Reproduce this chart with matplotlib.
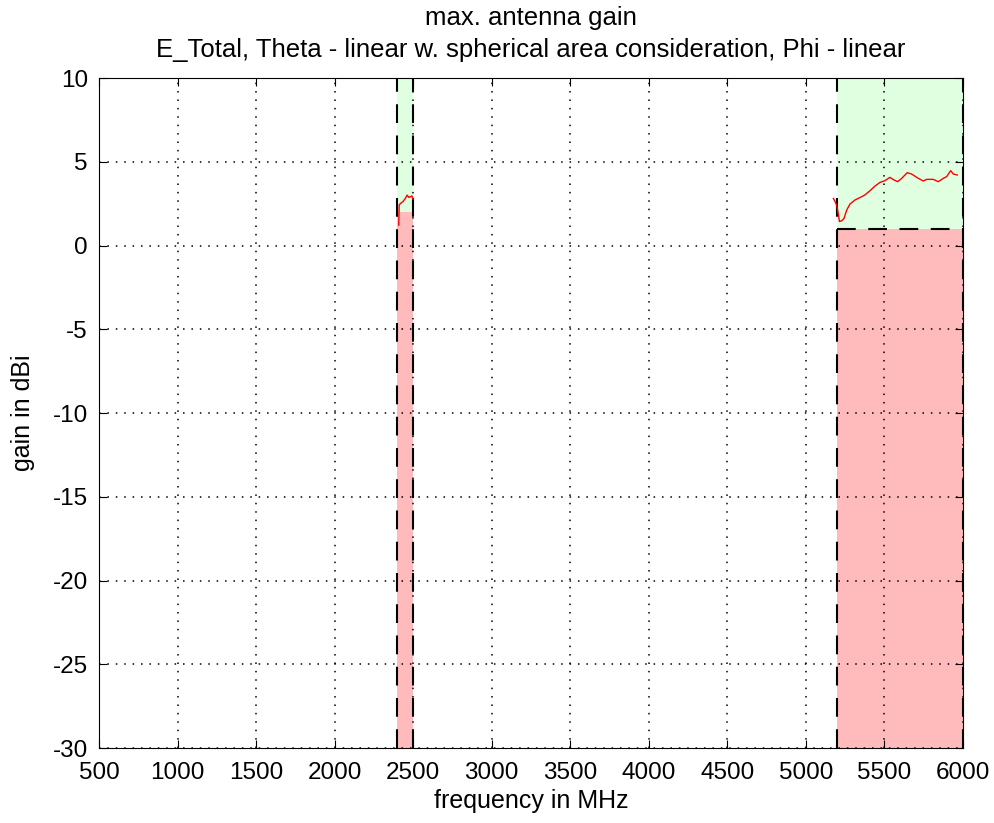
import numpy as np
import matplotlib.pyplot as plt

plt.rcParams['font.family'] = ['Liberation Sans', 'DejaVu Sans']
plt.rcParams['axes.unicode_minus'] = False

# measured max gain, 2.4 GHz band
f_low = [2408, 2411, 2420, 2435, 2450, 2461, 2473, 2492, 2499]
g_low = [1.22, 2.42, 2.52, 2.62, 2.81, 3.01, 2.87, 2.96, 2.76]

# measured max gain, 5 GHz band
f_high = [5175, 5190, 5200, 5214, 5228, 5243, 5260, 5281, 5313, 5344, 5376, 5408,
          5440, 5472, 5503, 5535, 5554, 5584, 5610, 5645, 5673, 5705, 5747,
          5769, 5811, 5843, 5875, 5896, 5922, 5938, 5964]
g_high = [2.81, 2.55, 2.25, 1.43, 1.48, 1.62, 2.12, 2.48, 2.72, 2.86, 3.02, 3.27,
          3.55, 3.77, 3.87, 4.07, 3.95, 3.81, 4.01, 4.35, 4.27, 4.07, 3.85,
          3.95, 3.95, 3.81, 4.01, 4.11, 4.47, 4.27, 4.21]

# band limits (MHz) and minimum required gain (dBi)
bands = [(2400, 2500), (5200, 6000)]
limits = [2, 1]
show_limit_line = [False, True]

ymin, ymax = -30, 10
dash = (0, (9, 6))

fig = plt.figure(figsize=(9.95, 8.23), dpi=100)
ax = fig.add_axes([0.0995, 0.0911, 0.8683, 0.8141])

for (f1, f2), lim, hline in zip(bands, limits, show_limit_line):
    ax.fill_between([f1, f2], ymin, lim, color='#ffbbbb', lw=0, zorder=1)
    ax.fill_between([f1, f2], lim, ymax, color='#e0ffe0', lw=0, zorder=1)
    ax.plot([f1, f1], [ymin, ymax], color='black', ls=dash, lw=1.5, zorder=3)
    ax.plot([f2, f2], [ymin, ymax], color='black', ls=dash, lw=1.5, zorder=3)
    if hline:
        ax.plot([f1, f2], [lim, lim], color='black', ls=dash, lw=1.5, zorder=3)

ax.plot(f_low, g_low, color='red', lw=1, zorder=4)
ax.plot(f_high, g_high, color='red', lw=1, zorder=4)

ax.set_xlim(500, 6000)
ax.set_ylim(ymin, ymax)
ax.set_xticks(np.arange(500, 6001, 500))
ax.set_yticks(np.arange(-30, 11, 5))
ax.grid(True, color='black', ls=(0, (1, 4.5)), lw=1.1, zorder=2)
ax.set_axisbelow(False)
ax.tick_params(direction='in', top=True, right=True, labelsize=17.5, length=6)
ax.tick_params(axis='x', pad=10)
ax.tick_params(axis='y', pad=8)

ax.set_xlabel('frequency in MHz', fontsize=18, labelpad=4)
ax.set_ylabel('gain in dBi', fontsize=18, labelpad=13)
ax.set_title('max. antenna gain\nE_Total, Theta - linear w. spherical area consideration, Phi - linear',
             fontsize=18.5, pad=15, linespacing=1.45)

fig.savefig('out.png', dpi=100)
